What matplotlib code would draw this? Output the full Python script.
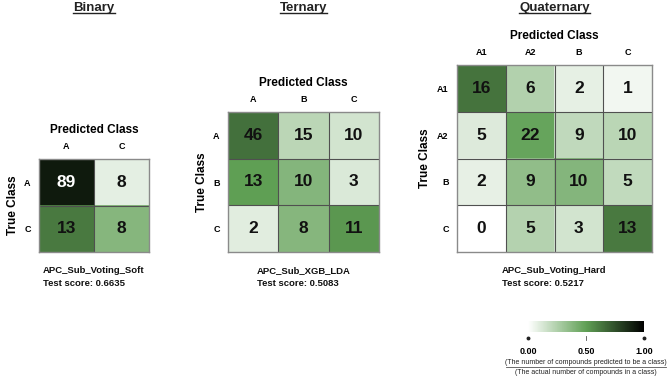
import numpy as np
import matplotlib
matplotlib.use("Agg")
import matplotlib.pyplot as plt
from matplotlib.colors import LinearSegmentedColormap, Normalize
from matplotlib.cm import ScalarMappable

plt.rcParams['font.family'] = ['Liberation Sans', 'DejaVu Sans']

# ---- data ----
binary_labels = ["A", "C"]
binary_counts = [[89, 8],
                 [13, 8]]
binary_model = "APC_Sub_Voting_Soft"
binary_score = "0.6635"

ternary_labels = ["A", "B", "C"]
ternary_counts = [[46, 15, 10],
                  [13, 10, 3],
                  [2, 8, 11]]
ternary_model = "APC_Sub_XGB_LDA"
ternary_score = "0.5083"

quaternary_labels = ["A1", "A2", "B", "C"]
quaternary_counts = [[16, 6, 2, 1],
                     [5, 22, 9, 10],
                     [2, 9, 10, 5],
                     [0, 5, 3, 13]]
quaternary_model = "APC_Sub_Voting_Hard"
quaternary_score = "0.5217"

panel_titles = ["Binary", "Ternary", "Quaternary"]
cbar_ticks = [0.0, 0.5, 1.0]
cbar_ticklabels = ["0.00", "0.50", "1.00"]

W, H = 668, 379
fig = plt.figure(figsize=(W / 100, H / 100), dpi=100)

cmap = LinearSegmentedColormap.from_list("wg", ["#ffffff", "#60a055", "#000000"])
norm = Normalize(0, 1)


def px_axes(l, r, t, b):
    return fig.add_axes([l / W, 1 - b / H, (r - l) / W, (b - t) / H])


def panel(box, labels, counts, title, model, score):
    l, r, t, b = box
    ax = px_axes(l, r, t, b)
    c = np.array(counts, dtype=float)
    frac = c / c.sum(axis=1, keepdims=True)
    n = len(labels)
    ax.imshow(frac, cmap=cmap, norm=norm, aspect="auto", interpolation="nearest",
              extent=(0, n, n, 0))
    ax.set_xlim(0, n)
    ax.set_ylim(n, 0)
    for k in range(1, n):
        ax.axhline(k, color="#505050", linewidth=0.8)
        ax.axvline(k, color="#505050", linewidth=0.8)
    for i in range(n):
        for j in range(n):
            col = "white" if frac[i, j] > 0.8 else "#111111"
            ax.text(j + 0.5, i + 0.5, str(counts[i][j]), ha="center", va="center",
                    fontsize=12.5, fontweight="bold", color=col)
    ax.xaxis.tick_top()
    ax.xaxis.set_label_position("top")
    ax.set_xticks(np.arange(n) + 0.5)
    ax.set_xticklabels(labels, fontsize=6.5, fontweight="bold")
    ax.set_yticks(np.arange(n) + 0.5)
    ax.set_yticklabels(labels, fontsize=6.5, fontweight="bold")
    ax.tick_params(length=0, pad=6)
    ax.set_xlabel("Predicted Class", fontsize=8.5, fontweight="bold", labelpad=6)
    ax.set_ylabel("True Class", fontsize=8.5, fontweight="bold", labelpad=4)
    for s in ax.spines.values():
        s.set_color("#8a8a8a")
        s.set_linewidth(1.0)
    cx = (l + r) / 2 / W
    fig.text(cx, 1 - 10.6 / H, title, ha="center", va="baseline", fontsize=9.5,
             fontweight="bold", color="#222222")
    fig.text(cx, 1 - 277 / H, model + "\nTest score: " + score, ha="center",
             va="center", multialignment="left", fontsize=6.8, fontweight="bold",
             linespacing=1.45, color="#111111")
    return ax


a1 = panel((39, 149, 159, 252), binary_labels, binary_counts, panel_titles[0],
           binary_model, binary_score)
a2 = panel((228, 379, 112, 252), ternary_labels, ternary_counts, panel_titles[1],
           ternary_model, ternary_score)
a3 = panel((457, 652, 65, 252), quaternary_labels, quaternary_counts, panel_titles[2],
           quaternary_model, quaternary_score)

# underline titles
fig.canvas.draw()
renderer = fig.canvas.get_renderer()
for t in fig.texts[:]:
    if t.get_text() in panel_titles:
        bb = t.get_window_extent(renderer)
        y = H - 12.6
        fig.add_artist(plt.Line2D([bb.x0 / W, bb.x1 / W], [y / H, y / H],
                                  color="#222222", linewidth=1.0,
                                  transform=fig.transFigure))

# colorbar
cax = px_axes(528, 644, 321, 332)
cb = fig.colorbar(ScalarMappable(norm=norm, cmap=cmap), cax=cax, orientation="horizontal")
cb.outline.set_visible(False)
cb.set_ticks(cbar_ticks)
cb.set_ticklabels(cbar_ticklabels)
cax.tick_params(length=0, pad=11, labelsize=6.5)
for lab in cax.get_xticklabels():
    lab.set_fontweight("bold")
cax.plot([0, 1], [-0.55, -0.55], "o", color="#222222", markersize=1.8, clip_on=False,
         transform=cax.transAxes)
cax.plot([0.5, 0.5], [-0.4, -0.75], "-", color="#555555", linewidth=0.6, clip_on=False,
         transform=cax.transAxes)

fx = 586 / W
fig.text(fx, 1 - 362 / H, "(The number of compounds predicted to be a class)",
         ha="center", va="center", fontsize=5, color="#222222")
fig.add_artist(plt.Line2D([506 / W, 666 / W], [1 - 367 / H, 1 - 367 / H],
                          color="#555555", linewidth=0.6, transform=fig.transFigure))
fig.text(fx, 1 - 372.5 / H, "(The actual number of compounds in a class)",
         ha="center", va="center", fontsize=5, color="#222222")

fig.savefig("out.png", dpi=100)
